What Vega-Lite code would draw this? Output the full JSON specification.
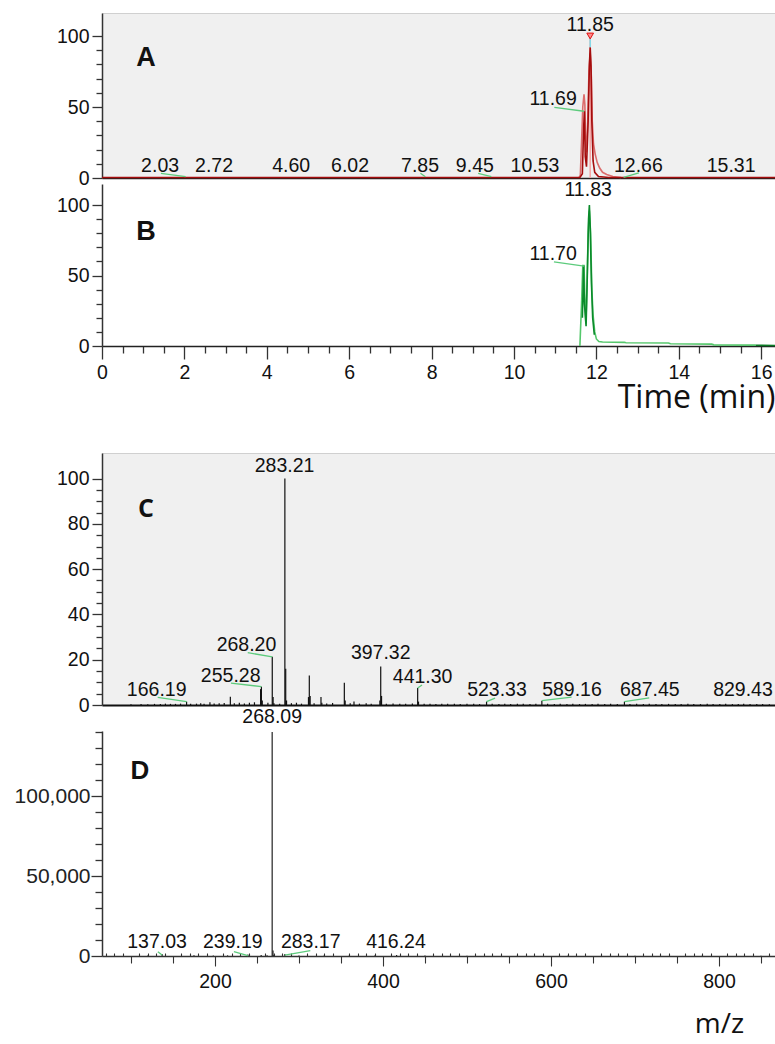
{
  "$schema": "https://vega.github.io/schema/vega-lite/v6.json",
  "padding": {"left": 13, "top": 12, "right": 0, "bottom": 0},
  "background": "white",
  "config": {
    "view": {"stroke": null},
    "axis": {"grid": false, "labelFont": "Liberation Sans", "labelFontSize": 19.5, "labelColor": "#111", "domainColor": "#333", "tickColor": "#333", "domainWidth": 1.5, "tickWidth": 1.3, "titleFont": "Open Sans", "titleFontWeight": "normal", "titleColor": "#111", "labelFlush": false, "labelOverlap": false},
    "text": {"font": "Liberation Sans", "fontSize": 19.5, "color": "#111"}
  },
  "datasets": {
    "traceA": [
      {"time": 11.58, "intensity": 0.3, "series": "outer"},
      {"time": 11.61, "intensity": 2, "series": "outer"},
      {"time": 11.64, "intensity": 25, "series": "outer"},
      {"time": 11.67, "intensity": 50, "series": "outer"},
      {"time": 11.70, "intensity": 59, "series": "outer"},
      {"time": 11.72, "intensity": 52, "series": "outer"},
      {"time": 11.74, "intensity": 25, "series": "outer"},
      {"time": 11.76, "intensity": 18, "series": "outer"},
      {"time": 11.79, "intensity": 40, "series": "outer"},
      {"time": 11.82, "intensity": 75, "series": "outer"},
      {"time": 11.85, "intensity": 88, "series": "outer"},
      {"time": 11.88, "intensity": 70, "series": "outer"},
      {"time": 11.90, "intensity": 40, "series": "outer"},
      {"time": 11.93, "intensity": 24, "series": "outer"},
      {"time": 11.97, "intensity": 17, "series": "outer"},
      {"time": 12.02, "intensity": 11, "series": "outer"},
      {"time": 12.08, "intensity": 7, "series": "outer"},
      {"time": 12.15, "intensity": 4, "series": "outer"},
      {"time": 12.25, "intensity": 2.5, "series": "outer"},
      {"time": 12.4, "intensity": 1, "series": "outer"},
      {"time": 12.6, "intensity": 0.4, "series": "outer"},
      {"time": 0, "intensity": 0.3, "series": "inner"},
      {"time": 11.60, "intensity": 0.3, "series": "inner"},
      {"time": 11.66, "intensity": 3, "series": "inner"},
      {"time": 11.69, "intensity": 35, "series": "inner"},
      {"time": 11.71, "intensity": 47, "series": "inner"},
      {"time": 11.73, "intensity": 15, "series": "inner"},
      {"time": 11.76, "intensity": 8, "series": "inner"},
      {"time": 11.80, "intensity": 40, "series": "inner"},
      {"time": 11.83, "intensity": 79, "series": "inner"},
      {"time": 11.85, "intensity": 92, "series": "inner"},
      {"time": 11.87, "intensity": 79, "series": "inner"},
      {"time": 11.89, "intensity": 40, "series": "inner"},
      {"time": 11.92, "intensity": 12, "series": "inner"},
      {"time": 11.96, "intensity": 4, "series": "inner"},
      {"time": 12.05, "intensity": 1, "series": "inner"},
      {"time": 12.3, "intensity": 0.4, "series": "inner"},
      {"time": 16.36, "intensity": 0.3, "series": "inner"}
    ],
    "markerA": [{"time": 11.85, "top": 100, "peak": 92}],
    "labelsA": [
      {"label": "2.03", "time": 2.03, "intensity": 0.9, "label_time": 1.41, "label_intensity": 4, "line_time": 1.43, "line_intensity": 3.3},
      {"label": "2.72", "time": 2.72, "intensity": 0.3, "label_time": 2.72, "label_intensity": 4},
      {"label": "4.60", "time": 4.60, "intensity": 0.3, "label_time": 4.59, "label_intensity": 4},
      {"label": "6.02", "time": 6.02, "intensity": 0.3, "label_time": 6.02, "label_intensity": 4},
      {"label": "7.85", "time": 7.85, "intensity": 0.9, "label_time": 7.72, "label_intensity": 4, "line_time": 7.73, "line_intensity": 3.3},
      {"label": "9.45", "time": 9.45, "intensity": 0.9, "label_time": 9.05, "label_intensity": 4, "line_time": 9.13, "line_intensity": 3.2},
      {"label": "10.53", "time": 10.53, "intensity": 0.3, "label_time": 10.51, "label_intensity": 4},
      {"label": "12.66", "time": 12.66, "intensity": 0.4, "label_time": 13.02, "label_intensity": 4, "line_time": 13.03, "line_intensity": 3.6},
      {"label": "15.31", "time": 15.31, "intensity": 0.3, "label_time": 15.27, "label_intensity": 4},
      {"label": "11.69", "time": 11.70, "intensity": 47, "label_time": 10.95, "label_intensity": 51.2, "line_time": 10.98, "line_intensity": 49.8},
      {"label": "11.85", "time": 11.85, "intensity": 100, "label_time": 11.85, "label_intensity": 103.5}
    ],
    "traceB": [
      {"time": 11.60, "intensity": 0, "series": "outer"},
      {"time": 11.64, "intensity": 30, "series": "outer"},
      {"time": 11.67, "intensity": 57, "series": "outer"},
      {"time": 11.70, "intensity": 57, "series": "outer"},
      {"time": 11.72, "intensity": 35, "series": "outer"},
      {"time": 11.745, "intensity": 16, "series": "outer"},
      {"time": 11.77, "intensity": 40, "series": "outer"},
      {"time": 11.80, "intensity": 80, "series": "outer"},
      {"time": 11.83, "intensity": 96, "series": "outer"},
      {"time": 11.86, "intensity": 80, "series": "outer"},
      {"time": 11.89, "intensity": 40, "series": "outer"},
      {"time": 11.92, "intensity": 22, "series": "outer"},
      {"time": 11.96, "intensity": 10, "series": "outer"},
      {"time": 12.0, "intensity": 5, "series": "outer"},
      {"time": 12.06, "intensity": 3.2, "series": "outer"},
      {"time": 12.15, "intensity": 2.8, "series": "outer"},
      {"time": 12.68, "intensity": 2.6, "series": "outer"},
      {"time": 12.72, "intensity": 2.3, "series": "outer"},
      {"time": 13.75, "intensity": 2.1, "series": "outer"},
      {"time": 13.8, "intensity": 1.6, "series": "outer"},
      {"time": 14.8, "intensity": 1.3, "series": "outer"},
      {"time": 14.85, "intensity": 0.8, "series": "outer"},
      {"time": 15.87, "intensity": 0.6, "series": "outer"},
      {"time": 11.66, "intensity": 20, "series": "inner"},
      {"time": 11.69, "intensity": 57, "series": "inner"},
      {"time": 11.71, "intensity": 30, "series": "inner"},
      {"time": 11.73, "intensity": 22, "series": "inner"},
      {"time": 11.75, "intensity": 14, "series": "inner"},
      {"time": 11.78, "intensity": 50, "series": "inner"},
      {"time": 11.81, "intensity": 90, "series": "inner"},
      {"time": 11.83, "intensity": 100, "series": "inner"},
      {"time": 11.85, "intensity": 85, "series": "inner"},
      {"time": 11.88, "intensity": 45, "series": "inner"},
      {"time": 11.91, "intensity": 20, "series": "inner"},
      {"time": 11.95, "intensity": 8, "series": "inner"},
      {"time": 15.87, "intensity": 0.5, "series": "tail"},
      {"time": 16.36, "intensity": 0.4, "series": "tail"}
    ],
    "labelsB": [
      {"label": "11.83", "time": 11.83, "intensity": 100, "label_time": 11.80, "label_intensity": 106.4},
      {"label": "11.70", "time": 11.70, "intensity": 56.7, "label_time": 10.95, "label_intensity": 61, "line_time": 10.97, "line_intensity": 59.6}
    ],
    "specC": [
      {"mz": 100, "abundance": 0.3}, {"mz": 112, "abundance": 0.4}, {"mz": 120, "abundance": 0.3}, {"mz": 128, "abundance": 0.5},
      {"mz": 135, "abundance": 0.4}, {"mz": 141, "abundance": 0.6}, {"mz": 147, "abundance": 0.5}, {"mz": 153, "abundance": 0.5},
      {"mz": 159, "abundance": 0.6}, {"mz": 166.19, "abundance": 1.5}, {"mz": 171, "abundance": 0.5}, {"mz": 178, "abundance": 0.6},
      {"mz": 183, "abundance": 0.8}, {"mz": 187, "abundance": 0.5}, {"mz": 194, "abundance": 1.2}, {"mz": 199, "abundance": 0.7},
      {"mz": 205, "abundance": 0.8}, {"mz": 211, "abundance": 0.9}, {"mz": 218.3, "abundance": 3.6}, {"mz": 223, "abundance": 0.8},
      {"mz": 229, "abundance": 1.0}, {"mz": 235, "abundance": 0.7}, {"mz": 241, "abundance": 1.0}, {"mz": 247, "abundance": 1.2},
      {"mz": 254.3, "abundance": 7}, {"mz": 255.28, "abundance": 8.1}, {"mz": 256.3, "abundance": 2}, {"mz": 263, "abundance": 1.0},
      {"mz": 268.2, "abundance": 21.3}, {"mz": 269.2, "abundance": 3.5}, {"mz": 270.2, "abundance": 0.8}, {"mz": 277, "abundance": 0.6},
      {"mz": 283.21, "abundance": 100}, {"mz": 284.21, "abundance": 16}, {"mz": 285.2, "abundance": 2}, {"mz": 291, "abundance": 0.8},
      {"mz": 297, "abundance": 1.0}, {"mz": 303, "abundance": 0.6}, {"mz": 311.3, "abundance": 3.5}, {"mz": 312.3, "abundance": 13},
      {"mz": 313.3, "abundance": 4}, {"mz": 318, "abundance": 0.8}, {"mz": 326.2, "abundance": 3.5}, {"mz": 327.2, "abundance": 1},
      {"mz": 333, "abundance": 0.7}, {"mz": 340, "abundance": 0.9}, {"mz": 354, "abundance": 9.8}, {"mz": 355, "abundance": 2},
      {"mz": 361, "abundance": 0.8}, {"mz": 365.5, "abundance": 1.5}, {"mz": 372, "abundance": 0.6}, {"mz": 380, "abundance": 0.8},
      {"mz": 386, "abundance": 0.6}, {"mz": 396.3, "abundance": 2}, {"mz": 397.32, "abundance": 17}, {"mz": 398.3, "abundance": 4},
      {"mz": 404, "abundance": 0.6}, {"mz": 412, "abundance": 0.7}, {"mz": 420, "abundance": 0.6}, {"mz": 427, "abundance": 0.5},
      {"mz": 435, "abundance": 0.7}, {"mz": 441.3, "abundance": 7.5}, {"mz": 442.3, "abundance": 1.5}, {"mz": 449, "abundance": 0.5},
      {"mz": 456, "abundance": 0.6}, {"mz": 463, "abundance": 0.4}, {"mz": 470, "abundance": 0.6}, {"mz": 477, "abundance": 0.5},
      {"mz": 485, "abundance": 0.6}, {"mz": 492, "abundance": 0.4}, {"mz": 500, "abundance": 0.5}, {"mz": 508, "abundance": 0.6},
      {"mz": 515, "abundance": 0.4}, {"mz": 523.33, "abundance": 1.5}, {"mz": 530, "abundance": 0.5}, {"mz": 538, "abundance": 0.4},
      {"mz": 545, "abundance": 0.6}, {"mz": 552, "abundance": 0.4}, {"mz": 560, "abundance": 0.5}, {"mz": 567, "abundance": 0.5},
      {"mz": 575, "abundance": 0.4}, {"mz": 582, "abundance": 0.5}, {"mz": 589.16, "abundance": 1.9}, {"mz": 596, "abundance": 0.5},
      {"mz": 604, "abundance": 0.4}, {"mz": 611, "abundance": 0.5}, {"mz": 619, "abundance": 0.4}, {"mz": 626, "abundance": 0.5},
      {"mz": 634, "abundance": 0.4}, {"mz": 641, "abundance": 0.5}, {"mz": 649, "abundance": 0.4}, {"mz": 656, "abundance": 0.5},
      {"mz": 664, "abundance": 0.4}, {"mz": 671, "abundance": 0.5}, {"mz": 679, "abundance": 0.4}, {"mz": 687.45, "abundance": 1.5},
      {"mz": 694, "abundance": 0.4}, {"mz": 702, "abundance": 0.5}, {"mz": 710, "abundance": 0.4}, {"mz": 717, "abundance": 0.5},
      {"mz": 725, "abundance": 0.4}, {"mz": 732, "abundance": 0.4}, {"mz": 740, "abundance": 0.5}, {"mz": 748, "abundance": 0.4},
      {"mz": 755, "abundance": 0.4}, {"mz": 763, "abundance": 0.5}, {"mz": 770, "abundance": 0.4}, {"mz": 778, "abundance": 0.4},
      {"mz": 786, "abundance": 0.5}, {"mz": 793, "abundance": 0.4}, {"mz": 801, "abundance": 0.4}, {"mz": 808, "abundance": 0.5},
      {"mz": 816, "abundance": 0.4}, {"mz": 823, "abundance": 0.4}, {"mz": 829.43, "abundance": 0.6}, {"mz": 837, "abundance": 0.4},
      {"mz": 845, "abundance": 0.4}, {"mz": 852, "abundance": 0.4}, {"mz": 860, "abundance": 0.3}
    ],
    "labelsC": [
      {"label": "283.21", "mz": 283.21, "abundance": 100, "label_mz": 282.8, "label_abundance": 103},
      {"label": "268.20", "mz": 268.2, "abundance": 21.3, "label_mz": 237.5, "label_abundance": 23.8, "line_mz": 239, "line_abundance": 23.1},
      {"label": "255.28", "mz": 255.28, "abundance": 8.1, "label_mz": 218.7, "label_abundance": 10.3, "line_mz": 219, "line_abundance": 9.7},
      {"label": "166.19", "mz": 166.19, "abundance": 1.5, "label_mz": 130.6, "label_abundance": 4.0, "line_mz": 131.8, "line_abundance": 3.4},
      {"label": "397.32", "mz": 397.32, "abundance": 17, "label_mz": 397.3, "label_abundance": 20.2},
      {"label": "441.30", "mz": 441.3, "abundance": 7.5, "label_mz": 447.2, "label_abundance": 9.8, "line_mz": 446.5, "line_abundance": 8.8},
      {"label": "523.33", "mz": 523.33, "abundance": 1.5, "label_mz": 535.7, "label_abundance": 4.0, "line_mz": 533.5, "line_abundance": 3.0},
      {"label": "589.16", "mz": 589.16, "abundance": 1.9, "label_mz": 625, "label_abundance": 4.0, "line_mz": 624.5, "line_abundance": 3.5},
      {"label": "687.45", "mz": 687.45, "abundance": 1.5, "label_mz": 717.7, "label_abundance": 4.0, "line_mz": 717, "line_abundance": 3.1},
      {"label": "829.43", "mz": 829.43, "abundance": 0.6, "label_mz": 828.6, "label_abundance": 4.0}
    ],
    "specD": [
      {"mz": 120, "abundance": 300}, {"mz": 137.03, "abundance": 1200}, {"mz": 175, "abundance": 400}, {"mz": 198, "abundance": 300},
      {"mz": 215, "abundance": 400}, {"mz": 239.19, "abundance": 1000}, {"mz": 255, "abundance": 600}, {"mz": 262, "abundance": 500},
      {"mz": 268.09, "abundance": 140000}, {"mz": 269.09, "abundance": 3500}, {"mz": 270.1, "abundance": 600}, {"mz": 283.17, "abundance": 1200},
      {"mz": 300, "abundance": 300}, {"mz": 330, "abundance": 300}, {"mz": 360, "abundance": 250}, {"mz": 390, "abundance": 250},
      {"mz": 416.24, "abundance": 700}, {"mz": 450, "abundance": 250}, {"mz": 500, "abundance": 200}, {"mz": 560, "abundance": 200},
      {"mz": 620, "abundance": 200}, {"mz": 700, "abundance": 200}, {"mz": 780, "abundance": 200}, {"mz": 850, "abundance": 200}
    ],
    "labelsD": [
      {"label": "268.09", "mz": 268.09, "abundance": 140000, "label_mz": 268.09, "label_abundance": 145800},
      {"label": "137.03", "mz": 137.03, "abundance": 600, "label_mz": 131, "label_abundance": 4800, "line_mz": 132, "line_abundance": 2700},
      {"label": "239.19", "mz": 239.19, "abundance": 200, "label_mz": 221.2, "label_abundance": 4800, "line_mz": 222.5, "line_abundance": 2700},
      {"label": "283.17", "mz": 283.17, "abundance": 600, "label_mz": 314, "label_abundance": 4800, "line_mz": 313.5, "line_abundance": 3300},
      {"label": "416.24", "mz": 416.24, "abundance": 700, "label_mz": 415.5, "label_abundance": 4800}
    ]
  },
  "spacing": 39,
  "vconcat": [
    {
      "spacing": 6,
      "bounds": "flush",
      "resolve": {"scale": {"color": "independent"}},
      "vconcat": [
        {
          "width": 674,
          "height": 165,
          "view": {"fill": "#f0f0f0", "stroke": "#d0d0d0"},
          "layer": [
            {
              "data": {"name": "markerA"},
              "mark": {"type": "rule", "color": "#f5a3a3", "strokeWidth": 1.5},
              "encoding": {
                "x": {"field": "time", "type": "quantitative", "scale": {"domain": [0, 16.36], "nice": false},
                  "axis": {"labels": false, "ticks": false, "domainColor": "#222", "domainWidth": 1.5, "title": null}},
                "y": {"field": "top", "type": "quantitative", "scale": {"domain": [0, 116.2], "nice": false},
                  "axis": {"values": [0, 10, 20, 30, 40, 50, 60, 70, 80, 90, 100], "tickCount": 200, "format": "d",
                    "labelExpr": "datum.value % 50 === 0 ? datum.label : ''",
                    "tickSize": {"condition": {"test": "datum.value % 50 === 0", "value": 10}, "value": 6},
                    "labelPadding": 3, "minExtent": 88, "maxExtent": 88, "title": null}},
                "y2": {"datum": 0}
              }
            },
            {
              "data": {"name": "traceA"},
              "mark": {"type": "line", "strokeWidth": 1.6},
              "encoding": {
                "x": {"field": "time", "type": "quantitative"},
                "y": {"field": "intensity", "type": "quantitative"},
                "color": {"field": "series", "type": "nominal", "legend": null, "scale": {"domain": ["outer", "inner"], "range": ["#dc6e6e", "#a50d0d"]}}
              }
            },
            {
              "data": {"name": "labelsA"},
              "transform": [{"filter": "isValid(datum.line_time)"}],
              "mark": {"type": "rule", "color": "#5ccb7c", "strokeWidth": 1.3},
              "encoding": {
                "x": {"field": "time", "type": "quantitative"},
                "y": {"field": "intensity", "type": "quantitative"},
                "x2": {"field": "line_time"},
                "y2": {"field": "line_intensity"}
              }
            },
            {
              "data": {"name": "markerA"},
              "mark": {"type": "rule", "color": "#7fdceb", "strokeWidth": 1.5},
              "encoding": {
                "x": {"field": "time", "type": "quantitative"},
                "y": {"field": "peak", "type": "quantitative"},
                "y2": {"field": "top"}
              }
            },
            {
              "data": {"name": "markerA"},
              "mark": {"type": "point", "shape": "triangle-down", "filled": true, "size": 45, "fill": "#ff8c8c", "stroke": "#e01010", "strokeWidth": 1, "opacity": 1},
              "encoding": {
                "x": {"field": "time", "type": "quantitative"},
                "y": {"field": "top", "type": "quantitative"}
              }
            },
            {
              "data": {"name": "labelsA"},
              "mark": {"type": "text", "align": "center", "baseline": "alphabetic"},
              "encoding": {
                "x": {"field": "label_time", "type": "quantitative"},
                "y": {"field": "label_intensity", "type": "quantitative"},
                "text": {"field": "label"}
              }
            },
            {
              "data": {"values": [{"letter": "A", "time": 1.07, "intensity": 84.5}]},
              "mark": {"type": "text", "align": "center", "baseline": "middle", "fontSize": 27, "fontWeight": "bold"},
              "encoding": {
                "x": {"field": "time", "type": "quantitative"},
                "y": {"field": "intensity", "type": "quantitative"},
                "text": {"field": "letter"}
              }
            }
          ]
        },
        {
          "width": 674,
          "height": 162,
          "layer": [
            {
              "data": {"name": "traceB"},
              "mark": {"type": "line", "strokeWidth": 1.6},
              "encoding": {
                "x": {"field": "time", "type": "quantitative", "scale": {"domain": [0, 16.36], "nice": false},
                  "axis": {"values": [0, 0.5, 1, 1.5, 2, 2.5, 3, 3.5, 4, 4.5, 5, 5.5, 6, 6.5, 7, 7.5, 8, 8.5, 9, 9.5, 10, 10.5, 11, 11.5, 12, 12.5, 13, 13.5, 14, 14.5, 15, 15.5, 16],
                    "tickCount": 200,
                    "labelExpr": "datum.value % 2 === 0 ? format(datum.value, 'd') : ''",
                    "tickSize": {"condition": {"test": "datum.value % 2 === 0", "value": 13}, "value": 7},
                    "labelPadding": 4, "domainColor": "#222",
                    "title": "Time (min)", "titleFontSize": 32, "titleAlign": "right", "titleAnchor": "end",
                    "titleX": 673, "titleY": 61, "titleBaseline": "alphabetic"}},
                "y": {"field": "intensity", "type": "quantitative", "scale": {"domain": [0, 114.9], "nice": false},
                  "axis": {"values": [0, 10, 20, 30, 40, 50, 60, 70, 80, 90, 100], "tickCount": 200, "format": "d",
                    "labelExpr": "datum.value % 50 === 0 ? datum.label : ''",
                    "tickSize": {"condition": {"test": "datum.value % 50 === 0", "value": 10}, "value": 6},
                    "labelPadding": 3, "minExtent": 88, "maxExtent": 88, "title": null}},
                "color": {"field": "series", "type": "nominal", "legend": null, "scale": {"domain": ["outer", "inner", "tail"], "range": ["#55c86c", "#0b8a2b", "#0b7a25"]}}
              }
            },
            {
              "data": {"name": "labelsB"},
              "transform": [{"filter": "isValid(datum.line_time)"}],
              "mark": {"type": "rule", "color": "#5ccb7c", "strokeWidth": 1.3},
              "encoding": {
                "x": {"field": "time", "type": "quantitative"},
                "y": {"field": "intensity", "type": "quantitative"},
                "x2": {"field": "line_time"},
                "y2": {"field": "line_intensity"}
              }
            },
            {
              "data": {"name": "labelsB"},
              "mark": {"type": "text", "align": "center", "baseline": "alphabetic"},
              "encoding": {
                "x": {"field": "label_time", "type": "quantitative"},
                "y": {"field": "label_intensity", "type": "quantitative"},
                "text": {"field": "label"}
              }
            },
            {
              "data": {"values": [{"letter": "B", "time": 1.07, "intensity": 80.9}]},
              "mark": {"type": "text", "align": "center", "baseline": "middle", "fontSize": 27, "fontWeight": "bold"},
              "encoding": {
                "x": {"field": "time", "type": "quantitative"},
                "y": {"field": "intensity", "type": "quantitative"},
                "text": {"field": "letter"}
              }
            }
          ]
        }
      ]
    },
    {
      "spacing": 26,
      "bounds": "flush",
      "vconcat": [
        {
          "width": 674,
          "height": 252,
          "view": {"fill": "#f0f0f0", "stroke": "#d0d0d0"},
          "layer": [
            {
              "data": {"name": "specC"},
              "mark": {"type": "rule", "color": "#111", "strokeWidth": 1.2},
              "encoding": {
                "x": {"field": "mz", "type": "quantitative", "scale": {"domain": [65.5, 867.9], "nice": false},
                  "axis": {"labels": false, "ticks": false, "domainColor": "#111", "domainWidth": 2, "title": null}},
                "y": {"field": "abundance", "type": "quantitative", "scale": {"domain": [0, 111.3], "nice": false},
                  "axis": {"values": [0, 5, 10, 15, 20, 25, 30, 35, 40, 45, 50, 55, 60, 65, 70, 75, 80, 85, 90, 95, 100], "tickCount": 200, "format": "d",
                    "labelExpr": "datum.value % 20 === 0 ? datum.label : ''",
                    "tickSize": {"condition": {"test": "datum.value % 20 === 0", "value": 10}, "value": 6},
                    "labelPadding": 3, "minExtent": 88, "maxExtent": 88, "title": null}},
                "y2": {"datum": 0}
              }
            },
            {
              "data": {"name": "labelsC"},
              "transform": [{"filter": "isValid(datum.line_mz)"}],
              "mark": {"type": "rule", "color": "#5ccb7c", "strokeWidth": 1.3},
              "encoding": {
                "x": {"field": "mz", "type": "quantitative"},
                "y": {"field": "abundance", "type": "quantitative"},
                "x2": {"field": "line_mz"},
                "y2": {"field": "line_abundance"}
              }
            },
            {
              "data": {"name": "labelsC"},
              "mark": {"type": "text", "align": "center", "baseline": "alphabetic"},
              "encoding": {
                "x": {"field": "label_mz", "type": "quantitative"},
                "y": {"field": "label_abundance", "type": "quantitative"},
                "text": {"field": "label"}
              }
            },
            {
              "data": {"values": [{"letter": "C", "mz": 117.9, "abundance": 86.5}]},
              "mark": {"type": "text", "align": "center", "baseline": "middle", "fontSize": 25, "fontWeight": "bold", "font": "Open Sans"},
              "encoding": {
                "x": {"field": "mz", "type": "quantitative"},
                "y": {"field": "abundance", "type": "quantitative"},
                "text": {"field": "letter"}
              }
            }
          ]
        },
        {
          "width": 674,
          "height": 225,
          "layer": [
            {
              "data": {"name": "specD"},
              "mark": {"type": "rule", "color": "#222", "strokeWidth": 1.2},
              "encoding": {
                "x": {"field": "mz", "type": "quantitative", "scale": {"domain": [65.5, 867.9], "nice": false},
                  "axis": {"values": [70, 80, 90, 100, 110, 120, 130, 140, 150, 160, 170, 180, 190, 200, 210, 220, 230, 240, 250, 260, 270, 280, 290, 300, 310, 320, 330, 340, 350, 360, 370, 380, 390, 400, 410, 420, 430, 440, 450, 460, 470, 480, 490, 500, 510, 520, 530, 540, 550, 560, 570, 580, 590, 600, 610, 620, 630, 640, 650, 660, 670, 680, 690, 700, 710, 720, 730, 740, 750, 760, 770, 780, 790, 800, 810, 820, 830, 840, 850, 860],
                    "tickCount": 200,
                    "labelExpr": "datum.value % 200 === 0 ? format(datum.value, 'd') : ''",
                    "tickSize": {"condition": [{"test": "datum.value % 200 === 0", "value": 10}, {"test": "datum.value % 50 === 0", "value": 7}], "value": -3},
                    "tickWidth": 1.1, "labelPadding": 6, "domainColor": "#333",
                    "title": "m/z", "titleFontSize": 28, "titleAlign": "center", "titleX": 617, "titleY": 76, "titleBaseline": "alphabetic"}},
                "y": {"field": "abundance", "type": "quantitative", "scale": {"domain": [0, 140625], "nice": false},
                  "axis": {"values": [0, 10000, 20000, 30000, 40000, 50000, 60000, 70000, 80000, 90000, 100000, 110000, 120000, 130000, 140000],
                    "tickCount": 200,
                    "labelExpr": "datum.value % 50000 === 0 ? format(datum.value, ',d') : ''",
                    "tickSize": {"condition": {"test": "datum.value % 50000 === 0", "value": 11}, "value": 7},
                    "labelFontSize": 21, "labelColor": "#222", "labelPadding": 1, "minExtent": 88, "maxExtent": 88, "title": null}},
                "y2": {"datum": 0}
              }
            },
            {
              "data": {"name": "labelsD"},
              "transform": [{"filter": "isValid(datum.line_mz)"}],
              "mark": {"type": "rule", "color": "#5ccb7c", "strokeWidth": 1.3},
              "encoding": {
                "x": {"field": "mz", "type": "quantitative"},
                "y": {"field": "abundance", "type": "quantitative"},
                "x2": {"field": "line_mz"},
                "y2": {"field": "line_abundance"}
              }
            },
            {
              "data": {"name": "labelsD"},
              "mark": {"type": "text", "align": "center", "baseline": "alphabetic"},
              "encoding": {
                "x": {"field": "label_mz", "type": "quantitative"},
                "y": {"field": "label_abundance", "type": "quantitative"},
                "text": {"field": "label"}
              }
            },
            {
              "data": {"values": [{"letter": "D", "mz": 110.7, "abundance": 115600}]},
              "mark": {"type": "text", "align": "center", "baseline": "middle", "fontSize": 26, "fontWeight": "bold"},
              "encoding": {
                "x": {"field": "mz", "type": "quantitative"},
                "y": {"field": "abundance", "type": "quantitative"},
                "text": {"field": "letter"}
              }
            }
          ]
        }
      ]
    }
  ]
}
